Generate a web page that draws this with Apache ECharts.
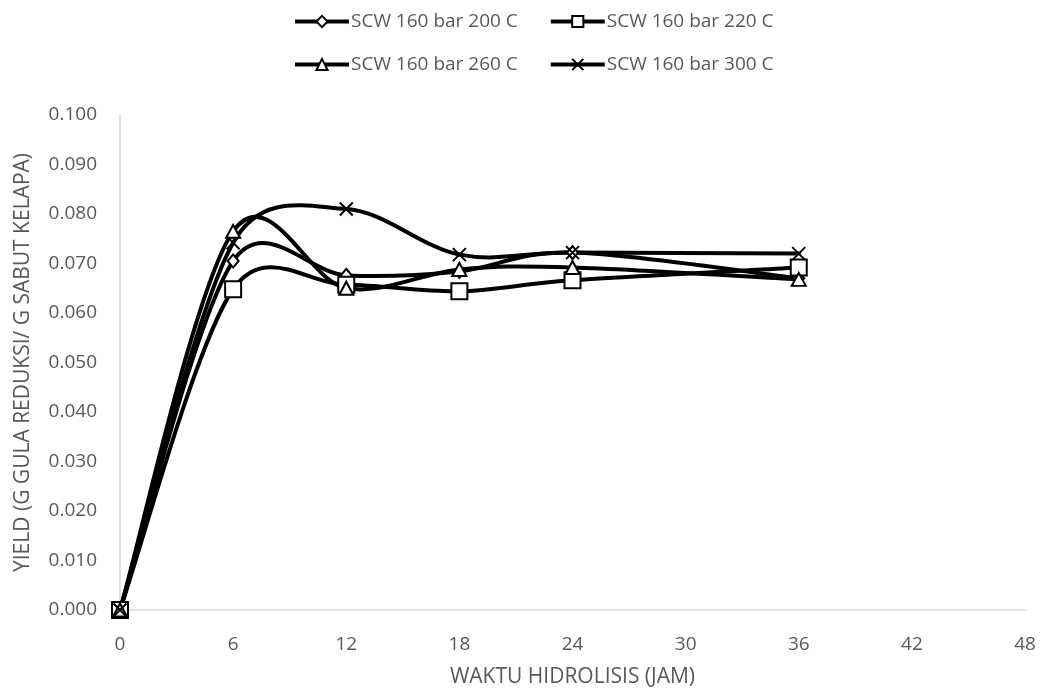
<!DOCTYPE html>
<html>
<head>
<meta charset="utf-8">
<script src="https://cdn.jsdelivr.net/npm/echarts@6/dist/echarts.min.js"></script>
<style>
  html, body { margin: 0; padding: 0; background: #fff; }
  #chart { width: 1045px; height: 693px; }
</style>
</head>
<body>
<div id="chart"></div>
<script>
// Hydrolysis time (hours) and reducing-sugar yield per series
const hours = [0, 6, 12, 18, 24, 36];
const yield200 = [0, 0.0705, 0.0676, 0.0684, 0.0722, 0.0670];
const yield220 = [0, 0.0648, 0.0657, 0.0644, 0.0666, 0.0692];
const yield260 = [0, 0.0765, 0.0650, 0.0688, 0.0692, 0.0668];
const yield300 = [0, 0.0742, 0.0810, 0.0718, 0.0722, 0.0720];
const seriesNames = ['SCW 160 bar 200 C', 'SCW 160 bar 220 C', 'SCW 160 bar 260 C', 'SCW 160 bar 300 C'];
const xTicks = [0, 6, 12, 18, 24, 30, 36, 42, 48];

const textColor = '#595959';
const fontFamily = '"Open Sans", Lato, sans-serif';
const fontSize = 19;
const nameFontSize = 21;
const crossSymbol = 'path://M0,0L10,10M10,0L0,10';

function pairs(values) {
  return hours.map((h, i) => [h, values[i]]);
}

// Markers (and legend entry) for one series; the curve itself is drawn by curveSeries
function markerSeries(name, values, symbol, size) {
  return {
    name: name,
    type: 'line',
    data: pairs(values),
    symbol: symbol,
    symbolSize: size,
    showAllSymbol: true,
    lineStyle: { color: '#000', width: 4, opacity: 0 },
    itemStyle: { color: '#fff', borderColor: '#000', borderWidth: 2 },
    emphasis: { disabled: true },
    z: 3
  };
}

// Scale a tangent handle so it is no longer than half of its segment
function handle(tx, ty, segLen) {
  const len = Math.hypot(tx, ty);
  const maxLen = segLen / 2;
  const k = len > maxLen && len > 0 ? maxLen / len : 1;
  return [tx * k, ty * k];
}

// Smoothed curve through the data points (cardinal bezier segments),
// positioned through the chart's own axes via api.coord
function curveSeries(values) {
  return {
    type: 'custom',
    data: pairs(values),
    encode: { x: 0, y: 1 },
    silent: true,
    z: 2,
    renderItem: function (params, api) {
      if (params.dataIndex !== 0) return null;
      const pts = hours.map((h, i) => api.coord([h, values[i]]));
      const n = pts.length;
      const children = [];
      for (let i = 0; i < n - 1; i++) {
        const p0 = pts[Math.max(i - 1, 0)];
        const p1 = pts[i];
        const p2 = pts[i + 1];
        const p3 = pts[Math.min(i + 2, n - 1)];
        const seg = Math.hypot(p2[0] - p1[0], p2[1] - p1[1]);
        const h1 = handle((p2[0] - p0[0]) / 6, (p2[1] - p0[1]) / 6, seg);
        const h2 = handle((p3[0] - p1[0]) / 6, (p3[1] - p1[1]) / 6, seg);
        children.push({
          type: 'bezierCurve',
          shape: {
            x1: p1[0], y1: p1[1],
            cpx1: p1[0] + h1[0], cpy1: p1[1] + h1[1],
            cpx2: p2[0] - h2[0], cpy2: p2[1] - h2[1],
            x2: p2[0], y2: p2[1]
          },
          style: { fill: 'none', stroke: '#000', lineWidth: 4, lineCap: 'round' }
        });
      }
      return { type: 'group', children: children };
    }
  };
}

const chart = echarts.init(document.getElementById('chart'), null, { renderer: 'canvas' });

const legendCommon = {
  itemWidth: 54,
  itemHeight: 14,
  itemGap: 31,
  lineStyle: { color: '#000', width: 4, opacity: 1 },
  textStyle: { color: textColor, fontSize: fontSize, fontFamily: fontFamily, padding: [0, 0, 0, -3] },
  selectedMode: false
};

chart.setOption({
  animation: false,
  backgroundColor: '#fff',
  legend: [
    Object.assign({ data: [seriesNames[0], seriesNames[1]], left: 288, top: 7 }, legendCommon),
    Object.assign({ data: [seriesNames[2], seriesNames[3]], left: 288, top: 50 }, legendCommon)
  ],
  grid: { left: 120, right: 20, top: 115, bottom: 81, containLabel: false },
  xAxis: {
    type: 'value',
    min: xTicks[0],
    max: xTicks[xTicks.length - 1],
    interval: 6,
    name: 'WAKTU HIDROLISIS (JAM)',
    nameLocation: 'middle',
    nameGap: 57,
    nameTextStyle: { color: textColor, fontSize: nameFontSize, fontFamily: fontFamily },
    axisLine: { lineStyle: { color: '#d9d9d9', width: 1.5 } },
    axisTick: { show: false },
    splitLine: { show: false },
    axisLabel: { color: textColor, fontSize: fontSize, fontFamily: fontFamily, margin: 25 }
  },
  yAxis: {
    type: 'value',
    min: 0,
    max: 0.1,
    interval: 0.01,
    name: 'YIELD (G GULA REDUKSI/ G SABUT KELAPA)',
    nameLocation: 'middle',
    nameGap: 86,
    nameTextStyle: { color: textColor, fontSize: nameFontSize, fontFamily: fontFamily },
    axisLine: { show: true, lineStyle: { color: '#d9d9d9', width: 1.5 } },
    axisTick: { show: false },
    splitLine: { show: false },
    axisLabel: {
      color: textColor, fontSize: fontSize, fontFamily: fontFamily, margin: 23,
      formatter: v => v.toFixed(3)
    }
  },
  series: [
    curveSeries(yield200),
    curveSeries(yield220),
    curveSeries(yield260),
    curveSeries(yield300),
    markerSeries(seriesNames[0], yield200, 'diamond', [11, 13]),
    markerSeries(seriesNames[1], yield220, 'rect', 16),
    markerSeries(seriesNames[2], yield260, 'triangle', [14, 13]),
    markerSeries(seriesNames[3], yield300, crossSymbol, 13)
  ]
});
</script>
</body>
</html>
